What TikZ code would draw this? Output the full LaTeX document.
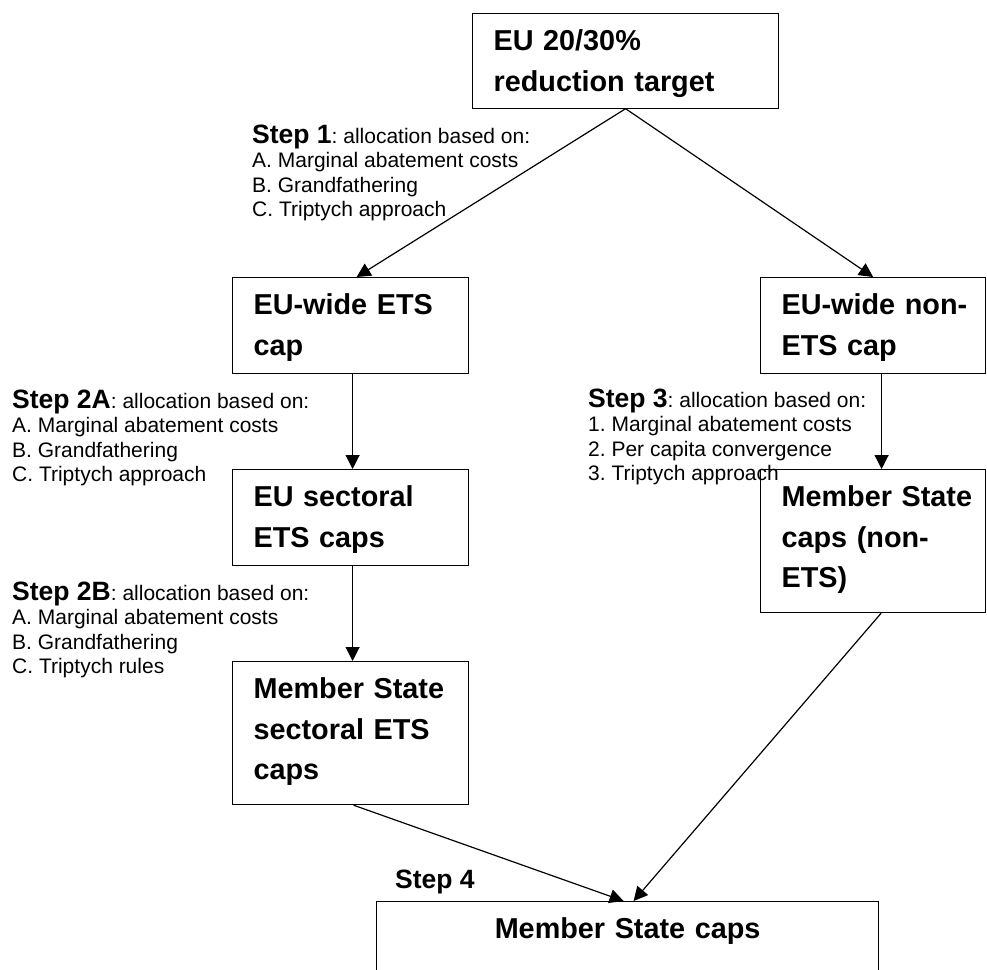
\documentclass[tikz,border=0pt]{standalone}
\usepackage{fontspec}
\setmainfont{Liberation Sans}
\usetikzlibrary{arrows.meta}
\frenchspacing
\newcommand{\topgap}{\rule{0pt}{37pt}}
\newcommand{\botgap}[1]{\rule[-#1pt]{0pt}{#1pt}}
\newcommand{\stepgap}{\rule{0pt}{24pt}}
\newcommand{\stephead}[1]{{\fontsize{26.5}{24.5}\selectfont\bfseries #1}}
\begin{document}
\begin{tikzpicture}[x=1pt,y=-1pt,
  capbox/.style={draw,line width=1.2pt,anchor=north west,inner xsep=21pt,inner ysep=0pt,
    align=left,font=\fontsize{28.8}{40.5}\selectfont\bfseries},
  steptext/.style={anchor=north west,inner sep=0pt,align=left,font=\fontsize{21}{24.5}\selectfont},
  flow/.style={line width=1.2pt,-{Triangle[length=14pt,width=14pt]}}]
\clip (0,0) rectangle (987,969);

% boxes
\node[capbox,text width=264pt] (target) at (472,13) {\topgap EU 20/30\%\\reduction target\botgap{17}};
\node[capbox,text width=194pt] (ets) at (232,277) {\topgap EU-wide ETS\\cap\botgap{18}};
\node[capbox,text width=183pt] (nonets) at (760,277) {\topgap\mbox{EU-wide non-}\\ETS cap\botgap{18}};
\node[capbox,text width=194pt] (secets) at (232,469) {\topgap EU sectoral\\ETS caps\botgap{18}};
\node[capbox,text width=183pt] (msnon) at (760,469) {\topgap\mbox{Member State}\\\mbox{caps (non-}\\ETS)\botgap{25}};
\node[capbox,text width=194pt] (msets) at (232,661) {\topgap\mbox{Member State}\\\mbox{sectoral ETS}\\caps\botgap{25}};
\node[capbox,text width=460pt,align=center] (ms) at (376,901) {\topgap Member State caps\botgap{60}};

% step notes
\node[steptext] (step1) at (252,119) {\stepgap\stephead{Step 1}: allocation based on:\\A. Marginal abatement costs\\B. Grandfathering\\C. Triptych approach};
\node[steptext] (step2a) at (12,384) {\stepgap\stephead{Step 2A}: allocation based on:\\A. Marginal abatement costs\\B. Grandfathering\\C. Triptych approach};
\node[steptext] (step2b) at (12,576) {\stepgap\stephead{Step 2B}: allocation based on:\\A. Marginal abatement costs\\B. Grandfathering\\C. Triptych rules};
\node[steptext] (step3) at (588,383) {\stepgap\stephead{Step 3}: allocation based on:\\1. Marginal abatement costs\\2. Per capita convergence\\3. Triptych approach};
\node[steptext] (step4) at (395,864) {\stepgap\stephead{Step 4}};

% arrows
\draw[flow] (target.south) -- ([xshift=6pt]ets.north);
\draw[flow] (target.south) -- (nonets.north);
\foreach \a/\b/\s in {ets/secets/2,secets/msets/2,nonets/msnon/8.5}
  \draw[flow] ([xshift=\s pt]\a.south) -- ([xshift=\s pt]\b.north);
\draw[flow] ([xshift=3pt]msets.south) -- ([xshift=-4pt]ms.north);
\draw[flow] ([xshift=8pt]msnon.south) -- ([xshift=6pt]ms.north);
\end{tikzpicture}
\end{document}
